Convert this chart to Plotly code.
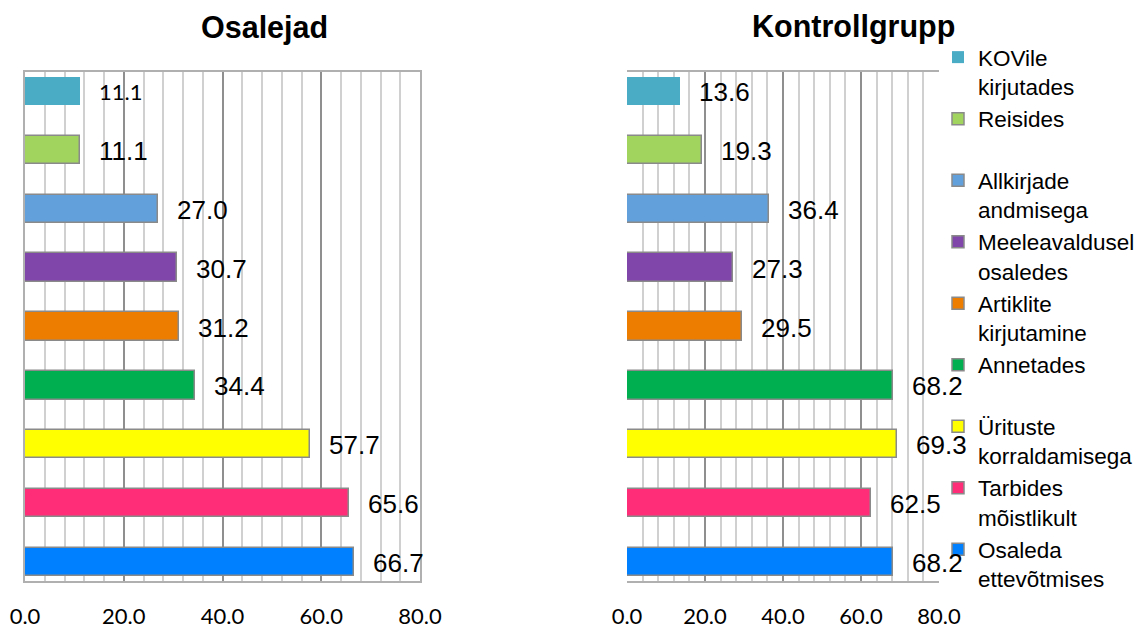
import plotly.graph_objects as go

categories = ["KOVile kirjutades", "Reisides", "Allkirjade andmisega",
              "Meeleavaldusel osaledes", "Artiklite kirjutamine", "Annetades",
              "Ürituste korraldamisega", "Tarbides mõistlikult", "Osaleda ettevõtmises"]
legend_labels = ["KOVile<br>kirjutades", "Reisides<br>\u00a0", "Allkirjade<br>andmisega",
                 "Meeleavaldusel<br>osaledes", "Artiklite<br>kirjutamine", "Annetades<br>\u00a0",
                 "Ürituste<br>korraldamisega", "Tarbides<br>mõistlikult", "Osaleda<br>ettevõtmises"]
osalejad = [11.1, 11.1, 27.0, 30.7, 31.2, 34.4, 57.7, 65.6, 66.7]
kontrollgrupp = [13.6, 19.3, 36.4, 27.3, 29.5, 68.2, 69.3, 62.5, 68.2]
colors = ["#4BACC6", "#A0D45E", "#62A0DB", "#8046AA", "#ED7D00",
          "#00B050", "#FFFF00", "#FF2D78", "#0080FF"]
tick_vals = [0, 20, 40, 60, 80]
titles = ["Osalejad", "Kontrollgrupp"]

OFF = 8            # page body margin offset of the plot div
W, H = 1147 - OFF, 628 - OFF
MR = 50            # right margin (room for legend overflow)
PW = W - MR        # plot-area width in px
ARIAL = "Liberation Sans, Arial, sans-serif"
CAL = "Lato, Open Sans, sans-serif"

def px(xpix):
    return (xpix - OFF) / PW

def py(ypix):
    return 1 - (ypix - OFF) / H

fig = go.Figure()

for si, (vals, xa, ya) in enumerate([(osalejad, "x", "y"), (kontrollgrupp, "x2", "y2")]):
    for i, cat in enumerate(categories):
        lw = 0 if i == 0 else 1.5
        fig.add_trace(go.Bar(
            x=[vals[i]], y=[cat], orientation="h",
            xaxis=xa, yaxis=ya, width=0.48,
            marker=dict(color=colors[i], line=dict(color="#8a8a8a", width=lw)),
            name=legend_labels[i], legendgroup=cat,
            showlegend=(si == 1), hoverinfo="skip",
        ))
        fnt = dict(family=ARIAL, size=26, color="black")
        if si == 0 and i == 0:
            fnt = dict(family=CAL, size=22, color="black")
        fig.add_annotation(
            x=vals[i], y=cat, xref=xa, yref=ya, text=f"{vals[i]:.1f}",
            showarrow=False, xanchor="left", yanchor="middle", xshift=17, yshift=-1,
            font=fnt,
        )

def xaxis_cfg(domain):
    return dict(
        domain=domain, range=[0, 80], tickvals=tick_vals, tickformat=".1f",
        showgrid=True, gridcolor="#8f8f8f", gridwidth=1.5,
        minor=dict(dtick=4, showgrid=True, gridcolor="#d0d0d0", gridwidth=1.5),
        showline=True, linecolor="#b0b0b0", linewidth=1.5, mirror=True,
        zeroline=False, ticks="outside", ticklen=15, tickcolor="rgba(0,0,0,0)",
        tickfont=dict(family=CAL, size=22, color="black"), fixedrange=True,
        automargin=False,
    )

def yaxis_cfg(domain):
    return dict(
        domain=domain, type="category", categoryorder="array", categoryarray=categories,
        range=[8.32, -0.32], showticklabels=False, showgrid=False,
        showline=True, linecolor="#b0b0b0", linewidth=1.5, mirror=True,
        zeroline=False, fixedrange=True, automargin=False,
    )

ydom = [py(581), py(72)]
fig.update_layout(
    width=W, height=H, margin=dict(l=0, r=MR, t=0, b=0, autoexpand=False),
    paper_bgcolor="white", plot_bgcolor="white",
    barmode="overlay", bargap=0,
    xaxis=xaxis_cfg([px(25), px(420)]), yaxis=yaxis_cfg(ydom),
    xaxis2=xaxis_cfg([px(627), px(939)]), yaxis2=yaxis_cfg(ydom),
    legend=dict(x=px(938), y=py(36), xanchor="left", yanchor="top",
                traceorder="normal", valign="top",
                font=dict(family=ARIAL, size=22.5, color="black"),
                bgcolor="rgba(0,0,0,0)", borderwidth=0),
    showlegend=True,
)

for t, cx, cy, fs in [(titles[0], 264, 28, 30.5), (titles[1], 853, 27, 30.5)]:
    fig.add_annotation(x=px(cx), y=py(cy), xref="paper", yref="paper",
                       text=f"<b>{t}</b>", showarrow=False, xanchor="center", yanchor="middle",
                       font=dict(family=ARIAL, size=fs, color="black"))

fig.write_html("out.html")
